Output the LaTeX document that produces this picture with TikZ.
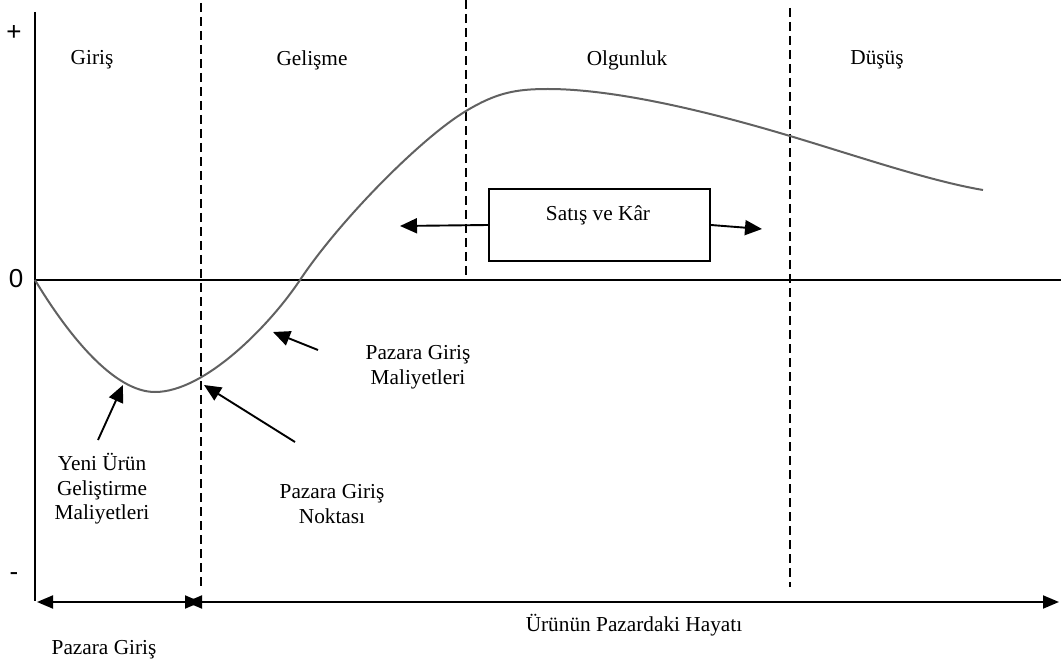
\documentclass[tikz,border=0pt]{standalone}
\usepackage{fontspec}
\setmainfont{Liberation Serif}
\newfontfamily\signfont{Liberation Sans}
\usetikzlibrary{arrows.meta}
\begin{document}
\begin{tikzpicture}[x=1pt,y=-1pt,
  txt/.style={font=\fontsize{21.3}{24.5}\selectfont, align=center, inner sep=0pt},
  sign/.style={font=\signfont\fontsize{26}{28}\selectfont, inner sep=0pt},
  axisline/.style={line width=1.9pt},
  phase/.style={line width=1.8pt, dash pattern=on 9pt off 5pt},
  lifecurve/.style={line width=2pt, black!62},
  pointer/.style={line width=1.9pt, -{Triangle[length=17pt,width=15pt]}},
  span/.style={line width=1.9pt, {Triangle[length=16pt,width=13pt]}-{Triangle[length=16pt,width=13pt]}},
  framebox/.style={draw, line width=1.8pt, minimum width=221pt, minimum height=72pt, inner sep=0pt}]
\useasboundingbox (0,0) rectangle (1061,663);

% axes
\coordinate (ytop) at (35,12);
\coordinate (ybot) at (35,601);
\coordinate (origin) at (35,280);
\coordinate (xend) at (1061,280);
\draw[axisline] (ytop) -- (ybot);
\draw[axisline] (origin) -- (xend);
\node[sign] (plus) at (14,33) {+};
\node[sign] (zero) at (16,279) {0};
\node[sign] (minus) at (14,577) {-};

% phase boundaries
\coordinate (b1t) at (201,3);   \coordinate (b1b) at (201,587);
\coordinate (b2t) at (466,0);   \coordinate (b2b) at (466,275);
\coordinate (b3t) at (790,8);   \coordinate (b3b) at (790,587);
\draw[phase] (b1t) -- (b1b);
\draw[phase] (b2t) -- (b2b);
\draw[phase] (b3t) -- (b3b);

% phase names
\node[txt] (intro) at (92,60) {Giriş};
\node[txt] (growth) at (312,60) {Gelişme};
\node[txt] (maturity) at (627,60) {Olgunluk};
\node[txt] (decline) at (877,60) {Düşüş};

% sales and profit curve
\coordinate (cStart) at (35,280);
\coordinate (cLow) at (155,392);
\coordinate (cCross) at (300,280);
\coordinate (cMat) at (466,111);
\coordinate (cPeak) at (548,89);
\coordinate (cDec) at (790,136);
\coordinate (cEnd) at (983,190);
\draw[lifecurve] (cStart)
  .. controls (70,338) and (115,392) .. (cLow)
  .. controls (205,392) and (270,325) .. (cCross)
  .. controls (340,220) and (421,138) .. (cMat)
  .. controls (496,93) and (515,89) .. (cPeak)
  .. controls (620,89) and (720,115) .. (cDec)
  .. controls (860,157) and (930,181) .. (cEnd);

% sales and profit box
\node[framebox] (box) at (599.5,225) {};
\node[txt] (boxlabel) at (598,215) {Satış ve Kâr};
\coordinate (salesL) at (400,226);
\coordinate (salesR) at (762,229);
\draw[pointer] (box.west) -- (salesL);
\draw[pointer] (box.east) -- (salesR);

% cost pointers
\coordinate (mcTail) at (318,350); \coordinate (mcTip) at (273,332);
\coordinate (epTail) at (295,442); \coordinate (epTip) at (204,385);
\coordinate (npTail) at (98,440);  \coordinate (npTip) at (123,385);
\draw[pointer] (mcTail) -- (mcTip);
\draw[pointer] (epTail) -- (epTip);
\draw[pointer] (npTail) -- (npTip);

\node[txt] (mcLabel) at (418,367) {Pazara Giriş\\Maliyetleri};
\node[txt] (epLabel) at (332,504) {Pazara Giriş\\Noktası};
\node[txt] (npLabel) at (102,489) {Yeni Ürün\\Geliştirme\\Maliyetleri};

% time spans
\coordinate (spanL) at (37,602);
\coordinate (spanM1) at (201,602);
\coordinate (spanM2) at (186,602);
\coordinate (spanR) at (1059,602);
\draw[span] (spanL) -- (spanM1);
\draw[span] (spanM2) -- (spanR);
\node[txt] (lifeLabel) at (634,625) {Ürünün Pazardaki Hayatı};
\node[txt] (entryLabel) at (104,650) {Pazara Giriş};
\end{tikzpicture}
\end{document}
